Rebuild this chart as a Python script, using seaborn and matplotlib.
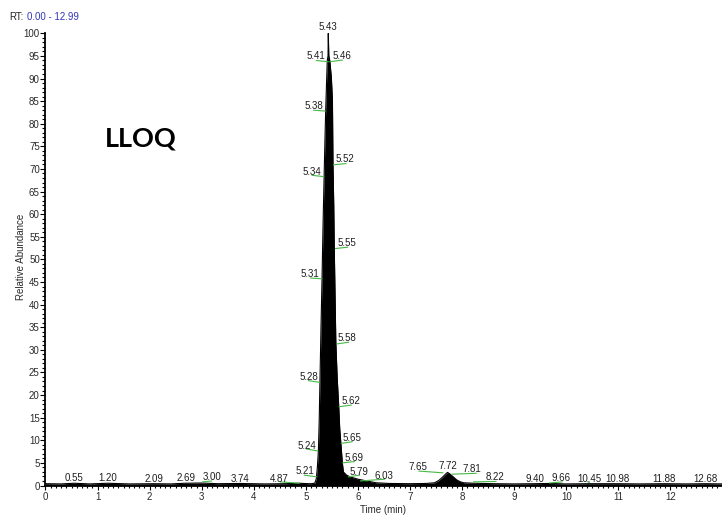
import numpy as np
import matplotlib
matplotlib.use("Agg")
import matplotlib.pyplot as plt
from matplotlib.ticker import MultipleLocator
import seaborn as sns

# ---- chromatogram trace (retention time in min, relative abundance in %) ----
rt = [0.00, 0.30, 0.55, 0.85, 1.20, 1.60, 2.09, 2.40, 2.69, 3.00, 3.30, 3.74,
      4.20, 4.60, 4.87, 5.05, 5.10, 5.17, 5.20, 5.22, 5.24, 5.255, 5.27, 5.29,
      5.31, 5.33, 5.35, 5.365, 5.38, 5.395, 5.41, 5.425, 5.43, 5.44, 5.46,
      5.49, 5.51, 5.52, 5.535, 5.545, 5.56, 5.575, 5.60, 5.63, 5.65, 5.67,
      5.70, 5.72, 5.78, 5.85, 6.00, 6.17, 6.35, 6.60, 7.00, 7.30, 7.47, 7.55,
      7.62, 7.68, 7.72, 7.76, 7.82, 7.90, 7.97, 8.03, 8.22, 8.60, 9.00, 9.40,
      9.66, 10.00, 10.45, 10.98, 11.40, 11.88, 12.30, 12.68, 12.99]
abundance = [0.4, 0.35, 0.5, 0.35, 0.5, 0.35, 0.4, 0.35, 0.5, 0.55, 0.4, 0.45,
             0.35, 0.4, 0.5, 0.4, 0.4, 0.5, 1.5, 4.0, 7.7, 14.0, 23.0, 35.0,
             45.8, 58.0, 68.4, 76.0, 82.9, 88.5, 93.9, 95.0, 100.0, 95.0, 93.9,
             90.0, 85.0, 71.1, 62.0, 52.6, 42.0, 31.6, 24.0, 17.6, 12.5, 9.55,
             5.0, 3.0, 2.3, 1.9, 1.4, 1.0, 0.6, 0.45, 0.4, 0.45, 0.6, 1.1,
             1.8, 2.5, 2.9, 2.6, 2.0, 1.2, 0.8, 0.6, 0.5, 0.4, 0.35, 0.4,
             0.45, 0.35, 0.4, 0.4, 0.35, 0.4, 0.35, 0.4, 0.35]

# ---- peak labels ----
label_rt = [0.55, 1.20, 2.09, 2.69, 3.00, 3.74, 4.87, 5.21, 5.24, 5.28, 5.31,
            5.34, 5.38, 5.41, 5.43, 5.46, 5.52, 5.55, 5.58, 5.62, 5.65, 5.69,
            5.79, 6.03, 7.65, 7.72, 7.81, 8.22, 9.40, 9.66, 10.45, 10.98,
            11.88, 12.68]
label_level = [0.3, 0.3, 0.15, 0.3, 0.85, 0.2, 0.5, 2.2, 7.7, 23.0, 45.8,
               68.4, 82.9, 93.9, 100.0, 93.9, 71.1, 52.6, 31.6, 17.6, 9.55,
               5.0, 2.1, 1.2, 3.0, 2.9, 2.6, 0.85, 0.1, 0.7, 0.1, 0.1,
               0.1, 0.1]
# text placement: side of the point and horizontal offset in pixels
label_side = ["c", "c", "c", "c", "r", "c", "l", "l", "l", "l", "l",
              "l", "l", "l", "c", "r", "r", "r", "r", "r", "r", "r",
              "r", "r", "l", "c", "r", "r", "c", "r", "c", "c",
              "c", "c"]
label_dx = [0, 0, 0, 0, 0.5, 0, -11, -2.5, -2.5, -2.5, -2.5,
            -2.5, -2.5, -1.5, 0, 3, 3, 3, 1, 3, 3, 3,
            3, 15, -17, 0, 10, 12, 0, 3, 0, 0,
            0, 0]

# ---- integration baselines (green segments) ----
seg_t0 = [3.01, 4.50, 4.96, 5.00, 5.04, 5.08, 5.11, 5.14, 5.19, 5.45, 5.52,
          5.56, 5.59, 5.63, 5.67, 5.70, 5.81, 6.04, 7.16, 7.80, 8.21, 9.67,
          10.40]
seg_t1 = [3.20, 4.88, 5.22, 5.24, 5.27, 5.31, 5.35, 5.38, 5.44, 5.71, 5.78,
          5.81, 5.83, 5.88, 5.90, 5.94, 6.04, 6.52, 7.64, 8.28, 8.66, 9.93,
          10.45]
seg_y0 = [0.8, 0.8, 2.3, 8.1, 23.2, 45.9, 68.6, 83.0, 94.0, 93.7, 70.9,
          52.4, 31.3, 17.4, 9.3, 5.0, 1.9, 1.0, 3.2, 2.5, 0.8, 0.55,
          0.9]
seg_y1 = [1.0, 0.5, 1.9, 7.6, 22.8, 45.7, 68.3, 82.8, 93.7, 94.1, 71.2,
          52.7, 31.7, 17.8, 9.7, 5.3, 2.3, 1.4, 2.8, 2.7, 0.9, 0.8,
          0.6]

sns.set_theme(style="ticks")
plt.rcParams["font.family"] = ["Liberation Sans", "DejaVu Sans"]

W, H = 722, 515
fig = plt.figure(figsize=(W / 100, H / 100), dpi=100)
x0_px, y0_px, y1_px = 45.5, 485.5, 33.3
ax = fig.add_axes([x0_px / W, 1 - y0_px / H, (W - x0_px) / W, (y0_px - y1_px) / H])

# trace: filled black chromatogram
ax.fill_between(rt, 0, abundance, color="black", lw=0, zorder=2)
sns.lineplot(x=rt, y=abundance, ax=ax, color="black", lw=0.8,
             estimator=None, sort=False, zorder=3)

# integration baselines
for t0, t1, a, b in zip(seg_t0, seg_t1, seg_y0, seg_y1):
    ax.plot([t0, t1], [a, b], color="#46b946", lw=0.8, zorder=4,
            solid_capstyle="butt")

# peak retention-time labels
for t, lev, side, dx in zip(label_rt, label_level, label_side, label_dx):
    ha = {"l": "right", "r": "left", "c": "center"}[side]
    dy = 3.0 if side == "c" else 1.5
    ax.annotate(f"{t:.2f}", xy=(t, lev), xytext=(dx, dy),
                textcoords="offset pixels", ha=ha, va="baseline",
                fontsize=7, color="#1e1e1e", annotation_clip=False, zorder=5)

ax.set_xlim(0, 12.99)
ax.set_ylim(0, 100)
ax.xaxis.set_major_locator(MultipleLocator(1))
ax.xaxis.set_minor_locator(MultipleLocator(0.1))
ax.yaxis.set_major_locator(MultipleLocator(5))
ax.yaxis.set_minor_locator(MultipleLocator(1))
ax.set_xticks(np.arange(0, 13))
ax.set_xticklabels([str(i) for i in range(13)])

for side in ("top", "right"):
    ax.spines[side].set_visible(False)
for side in ("left", "bottom"):
    ax.spines[side].set_linewidth(1.3)
    ax.spines[side].set_color("black")

ax.tick_params(axis="both", which="both", direction="out", colors="black",
               width=0.8, labelsize=7, labelcolor="#2a2a2a")
ax.tick_params(axis="x", which="major", length=3.2, pad=1.2)
ax.tick_params(axis="x", which="minor", length=1.6)
ax.tick_params(axis="y", which="major", length=3.6, pad=0.5)
ax.tick_params(axis="y", which="minor", length=2.4)
ax.grid(False)
ax.set_facecolor("white")

ax.set_xlabel("Time (min)", fontsize=7, color="#2a2a2a")
ax.xaxis.set_label_coords(0.499, -0.043)
ax.set_ylabel("Relative Abundance", fontsize=7, color="#2a2a2a")
ax.yaxis.set_label_coords(-0.029, 0.506)

# header with retention-time range
fig.text(9 / W, 1 - 19.5 / H, "RT:", fontsize=7, color="#222222",
         ha="left", va="baseline")
fig.text(26.5 / W, 1 - 19.5 / H, "0.00 - 12.99", fontsize=7, color="#3535b8",
         ha="left", va="baseline")

# sample annotation
fig.text(105 / W, 1 - 146.7 / H, "LLOQ", fontsize=19.5, fontweight="bold",
         family=["Lato", "DejaVu Sans"], color="black", ha="left", va="baseline")

fig.savefig("out.png", dpi=100, facecolor="white")
